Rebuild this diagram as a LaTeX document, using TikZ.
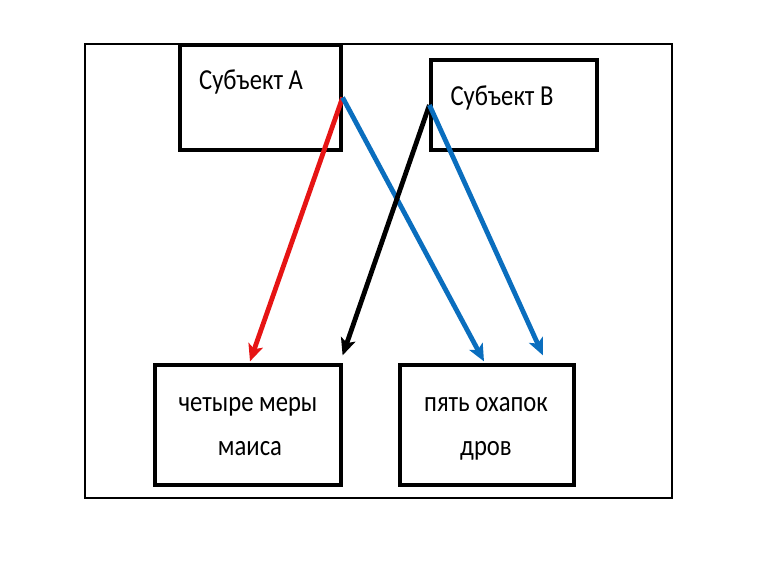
\documentclass[tikz,border=0pt]{standalone}
\usepackage{fontspec}
\usepackage{graphicx}
\setmainfont{Carlito}
\usetikzlibrary{arrows.meta,calc}
\definecolor{arrred}{RGB}{230,20,20}
\definecolor{arrblue}{RGB}{10,110,190}
\newcommand\narrowtxt[1]{\scalebox{0.85}[1]{#1}}
\tikzset{
  box/.style={draw=black, line width=3.2pt, inner sep=0pt},
  lbl/.style={font=\fontsize{29}{34}\selectfont, inner sep=0pt, anchor=base},
  arr/.style={line width=4.8pt, -{Stealth[length=17pt,width=15pt,inset=4pt]}},
}
\begin{document}
\begin{tikzpicture}[x=1pt,y=-1pt]
\useasboundingbox (0,0) rectangle (771,573);
\node[draw=black, line width=2pt, minimum width=587pt, minimum height=454pt, inner sep=0pt] (frame) at (378.5,271) {};
\node[box, minimum width=161pt, minimum height=105pt] (A) at (260.5,97.5) {};
\node[box, minimum width=166pt, minimum height=90pt] (B) at (514,105) {};
\node[box, minimum width=186pt, minimum height=120pt] (C) at (248,425) {};
\node[box, minimum width=174pt, minimum height=120pt] (D) at (487,425) {};
\node[lbl] (tA) at (251,89) {\narrowtxt{Субъект А}};
\node[lbl] (tB) at (502,105.5) {\narrowtxt{Субъект В}};
\node[lbl] (tC1) at (248,411) {\narrowtxt{четыре меры}};
\node[lbl] (tC2) at (250,455) {\narrowtxt{маиса}};
\node[lbl] (tD1) at (486,411) {\narrowtxt{пять охапок}};
\node[lbl] (tD2) at (486,455) {\narrowtxt{дров}};
\coordinate (Cend) at ($(C.north east)+(0,-8)$);
\coordinate (Dend) at ($(D.north)+(56,-8)$);
\draw[arr, arrred] (A.east) -- ($(C.north)+(2,-2)$);
\draw[arr, arrblue] (A.east) -- ($(D.north)+(-3,-2)$);
\draw[arr, black] (B.west) -- (Cend);
\draw[arr, arrblue] (B.west) -- (Dend);
\end{tikzpicture}
\end{document}
